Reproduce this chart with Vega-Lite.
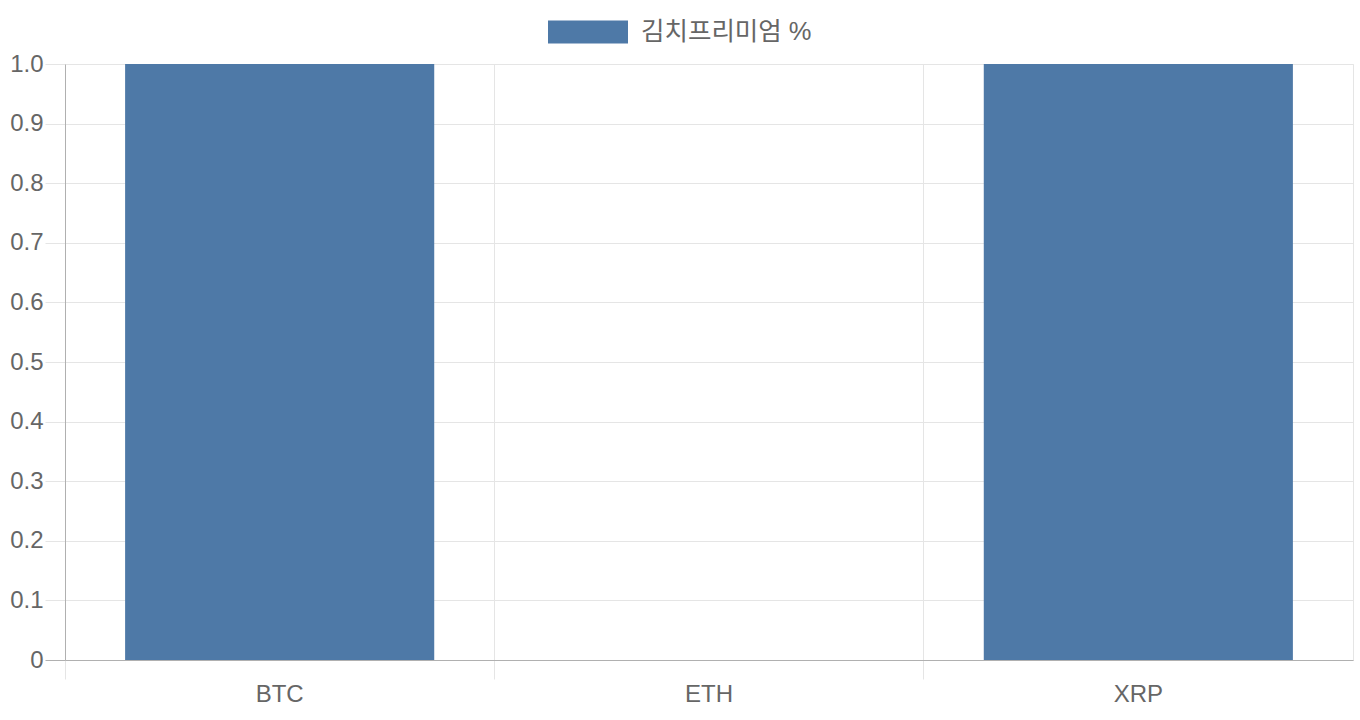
{
  "$schema": "https://vega.github.io/schema/vega-lite/v6.json",
  "autosize": {"type": "none"},
  "width": 1288,
  "height": 596,
  "padding": {"left": 65, "top": 64, "right": 7, "bottom": 60},
  "background": "white",
  "data": {
    "values": [
      {"coin": "BTC", "premium": 1, "series": "김치프리미엄 %"},
      {"coin": "ETH", "premium": 0, "series": "김치프리미엄 %"},
      {"coin": "XRP", "premium": 1, "series": "김치프리미엄 %"}
    ]
  },
  "mark": {"type": "bar", "width": {"band": 0.72}},
  "encoding": {
    "x": {
      "field": "coin",
      "type": "nominal",
      "sort": null,
      "scale": {"paddingInner": 0, "paddingOuter": 0},
      "axis": {
        "title": null,
        "labelAngle": 0,
        "bandPosition": 0,
        "grid": true,
        "gridColor": "#e5e5e5",
        "tickColor": "#e5e5e5",
        "tickSize": 19,
        "labelPadding": 3,
        "domainColor": "#b0b0b0"
      }
    },
    "y": {
      "field": "premium",
      "type": "quantitative",
      "scale": {"domain": [0, 1], "nice": false},
      "axis": {
        "title": null,
        "values": [0, 0.1, 0.2, 0.3, 0.4, 0.5, 0.6, 0.7, 0.8, 0.9, 1.0],
        "labelExpr": "datum.value == 0 ? '0' : format(datum.value, '.1f')",
        "grid": true,
        "gridColor": "#e5e5e5",
        "tickColor": {"condition": {"test": "datum.value == 0", "value": "#b0b0b0"}, "value": "#e5e5e5"},
        "tickSize": 20,
        "labelPadding": 2,
        "domainColor": "#b0b0b0"
      }
    },
    "color": {
      "field": "series",
      "type": "nominal",
      "scale": {"range": ["#4e79a7"]},
      "legend": {
        "title": null,
        "orient": "none",
        "legendX": 483,
        "legendY": -72,
        "symbolType": "M-1,-0.2875L1,-0.2875L1,0.2875L-1,0.2875Z",
        "symbolSize": 6400,
        "symbolStrokeWidth": 0,
        "labelOffset": 13,
        "labelLimit": 400
      }
    }
  },
  "config": {
    "font": "'Liberation Sans', 'Noto Sans CJK KR', sans-serif",
    "view": {"stroke": "#e5e5e5"},
    "axis": {
      "labelFont": "'Liberation Sans', 'Noto Sans CJK KR', sans-serif",
      "labelFontSize": 24,
      "labelColor": "#666666",
      "gridWidth": 1,
      "domainWidth": 1
    },
    "legend": {
      "labelFont": "'Liberation Sans', 'Noto Sans CJK KR', sans-serif",
      "labelFontSize": 25.5,
      "labelColor": "#666666",
      "padding": 0
    }
  }
}
